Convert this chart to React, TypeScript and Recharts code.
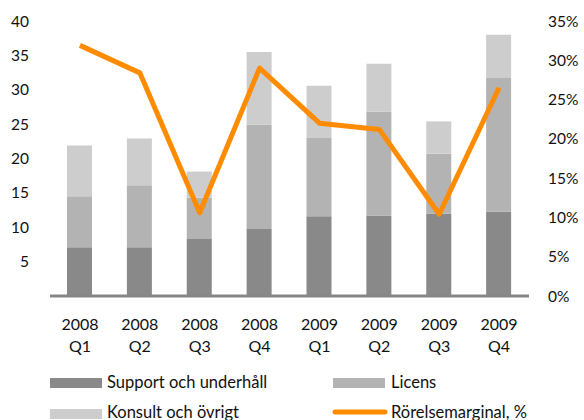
import React from 'react';
import { ComposedChart, Bar, Line, XAxis, YAxis, Legend } from 'recharts';

const years = ['2008', '2008', '2008', '2008', '2009', '2009', '2009', '2009'];
const quarters = ['Q1', 'Q2', 'Q3', 'Q4', 'Q1', 'Q2', 'Q3', 'Q4'];
const support = [7.1, 7.1, 8.3, 9.75, 11.6, 11.7, 12.0, 12.3];
const licens = [7.4, 9.0, 6.0, 15.15, 11.4, 15.1, 8.7, 19.4];
const konsult = [7.4, 6.8, 3.8, 10.6, 7.6, 7.0, 4.7, 6.3];
const margin = [31.9, 28.4, 10.6, 29.0, 22.0, 21.2, 10.4, 26.5];
const leftTicks = [5, 10, 15, 20, 25, 30, 35, 40];
const rightTicks = [0, 5, 10, 15, 20, 25, 30, 35];
const boundaryTicks = [0, 1, 2, 3, 4, 5, 6, 7, 8];

const data = years.map((y, i) => ({
  cat: i,
  year: y,
  q: quarters[i],
  support: support[i],
  licens: licens[i],
  konsult: konsult[i],
  margin: margin[i],
}));

const FONT = 'Lato, "Open Sans", sans-serif';
const C_DARK = '#898989';
const C_MID = '#b3b3b3';
const C_LIGHT = '#cdcdcd';
const C_ORANGE = '#ff8c00';
const AXIS = '#878787';
const TXT = '#111111';

const CatTick = (props: any) => {
  const { x, y, payload } = props;
  const i = payload.value as number;
  return (
    <g>
      <text x={x} y={y + 30} textAnchor="middle" fontFamily={FONT} fontSize={16} fill={TXT}>
        {years[i]}
      </text>
      <text x={x} y={y + 52} textAnchor="middle" fontFamily={FONT} fontSize={16} fill={TXT}>
        {quarters[i]}
      </text>
    </g>
  );
};

const LegendContent = () => (
  <svg width={584} height={52} style={{ display: 'block', overflow: 'visible' }}>
    <rect x={50} y={8} width={52} height={10} fill={C_DARK} />
    <text x={107} y={18} fontFamily={FONT} fontSize={16.5} fill={TXT}>Support och underhåll</text>
    <rect x={333} y={8} width={52} height={10} fill={C_MID} />
    <text x={391} y={18} fontFamily={FONT} fontSize={16.5} fill={TXT}>Licens</text>
    <rect x={50} y={39} width={52} height={10} fill={C_LIGHT} />
    <text x={107} y={48} fontFamily={FONT} fontSize={16.5} fill={TXT}>Konsult och övrigt</text>
    <line x1={335} y1={42} x2={385} y2={42} stroke={C_ORANGE} strokeWidth={5} strokeLinecap="round" />
    <text x={391} y={48} fontFamily={FONT} fontSize={16.5} fill={TXT}>Rörelsemarginal, %</text>
  </svg>
);

export default function App() {
  return (
    <div style={{ position: 'absolute', left: 0, top: 0, width: 584, height: 420, background: '#fff' }}>
      <ComposedChart
        width={584}
        height={420}
        data={data}
        margin={{ top: 21, right: 0, left: 0, bottom: 60 }}
        barSize={25}
      >
        <XAxis
          xAxisId="b"
          type="number"
          domain={[0, 8]}
          ticks={boundaryTicks}
          tick={false}
          height={4}
          axisLine={{ stroke: AXIS, strokeWidth: 3 }}
          tickLine={{ stroke: AXIS, strokeWidth: 3 }}
          tickSize={7}
          allowDataOverflow
        />
        <XAxis
          xAxisId="c"
          dataKey="cat"
          type="category"
          height={60}
          axisLine={false}
          tickLine={false}
          tickSize={0}
          tickMargin={0}
          interval={0}
          tick={<CatTick />}
        />
        <YAxis
          yAxisId="l"
          orientation="left"
          width={50}
          domain={[0, 40]}
          ticks={leftTicks}
          axisLine={false}
          tickLine={false}
          tickSize={0}
          tickMargin={21}
          tick={{ fontFamily: FONT, fontSize: 15.5, fill: TXT }}
        />
        <YAxis
          yAxisId="r"
          orientation="right"
          width={55}
          domain={[0, 35]}
          ticks={rightTicks}
          axisLine={false}
          tickLine={false}
          tickSize={0}
          tickMargin={19}
          tickFormatter={(v: number) => `${v}%`}
          tick={{ fontFamily: FONT, fontSize: 15.5, fill: TXT, textAnchor: 'start' }}
        />
        <Bar xAxisId="c" yAxisId="l" dataKey="support" stackId="s" fill={C_DARK} isAnimationActive={false} />
        <Bar xAxisId="c" yAxisId="l" dataKey="licens" stackId="s" fill={C_MID} isAnimationActive={false} />
        <Bar xAxisId="c" yAxisId="l" dataKey="konsult" stackId="s" fill={C_LIGHT} isAnimationActive={false} />
        <Line
          xAxisId="c"
          yAxisId="r"
          dataKey="margin"
          stroke={C_ORANGE}
          strokeWidth={5}
          dot={false}
          activeDot={false}
          type="linear"
          strokeLinejoin="round"
          isAnimationActive={false}
        />
        <Legend
          layout="horizontal"
          verticalAlign="middle"
          align="center"
          content={<LegendContent />}
          wrapperStyle={{ position: 'absolute', left: 0, top: 370, width: 584, height: 52 }}
        />
      </ComposedChart>
    </div>
  );
}
